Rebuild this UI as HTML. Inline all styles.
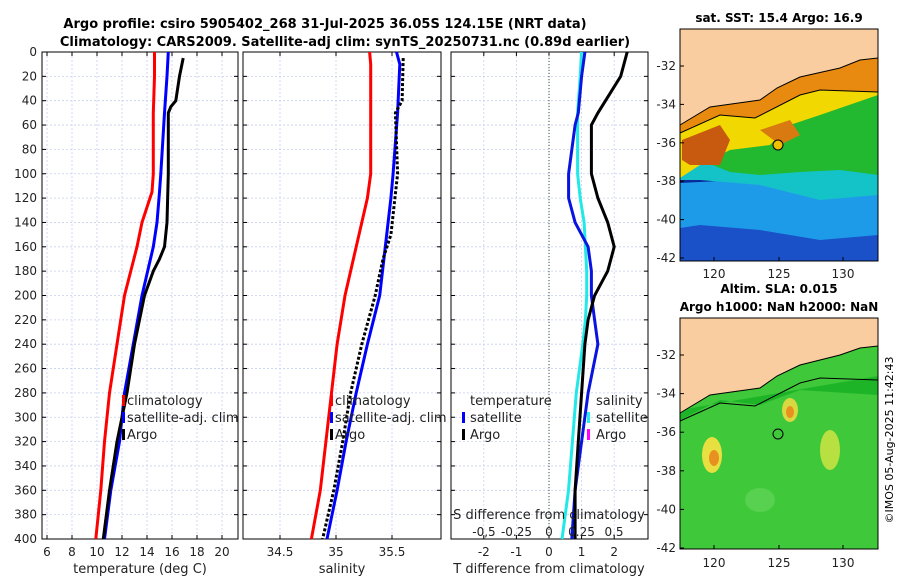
<!DOCTYPE html>
<html><head><meta charset="utf-8"><style>
body{margin:0;background:#fff;width:900px;height:580px;overflow:hidden;font-family:"Liberation Sans","DejaVu Sans",sans-serif}
svg text{font-family:"DejaVu Sans","Liberation Sans",sans-serif}
</style></head><body>
<svg id="c" width="900" height="580">
<text x="325" y="28" font-size="13" font-weight="bold" text-anchor="middle">Argo profile: csiro 5905402_268 31-Jul-2025 36.05S 124.15E (NRT data)</text>
<text x="345" y="46" font-size="13" font-weight="bold" text-anchor="middle">Climatology: CARS2009. Satellite-adj clim: synTS_20250731.nc (0.89d earlier)</text>
<g id="p1"></g>
<g id="p2"></g>
<g id="p3"></g>
<g id="m1">
<text x="779" y="22" font-size="12" font-weight="bold" text-anchor="middle">sat. SST: 15.4 Argo: 16.9</text>
<rect x="680" y="29" width="198" height="232" fill="#0a2a9a"/>
<polygon points="680,205 878,205 878,261 680,261" fill="#1a50c8"/>
<polygon points="680,183 740,180 800,190 878,185 878,235 820,240 760,230 700,225 680,228" fill="#1e9be8"/>
<polygon points="680,162 878,160 878,195 820,200 760,185 700,180 680,180" fill="#14c3c8"/>
<polygon points="680,125 878,92 878,175 840,170 800,172 760,175 730,172 700,160 680,160" fill="#22b830"/>
<polygon points="680,125 878,58 878,95 820,115 790,125 770,145 730,150 700,165 680,178" fill="#f0d800"/>
<polygon points="680,125 710,107 760,100 777,88 800,77 840,68 860,60 878,58 878,92 820,90 800,95 790,100 755,118 720,115 680,133" fill="#e88a10"/>
<polygon points="682,140 720,125 730,140 720,165 690,165 682,160" fill="#c85a10"/>
<polygon points="760,130 790,120 800,135 780,145" fill="#d87a10"/>
<polygon points="680,29 878,29 878,58 860,60 840,68 800,77 777,88 760,100 710,107 680,125" fill="#f9cda0"/>
<polyline points="680,125 710,107 760,100 777,88 800,77 840,68 860,60 878,58" fill="none" stroke="#000" stroke-width="1"/>
<polyline points="680,133 720,115 755,118 800,95 820,90 878,92" fill="none" stroke="#000" stroke-width="1"/>
<circle cx="778" cy="145" r="5" fill="#f0c000" stroke="#000"/>
<rect x="680" y="29" width="198" height="232" fill="none" stroke="#000"/>
</g>
<g id="m2">
<text x="779" y="293" font-size="12" font-weight="bold" text-anchor="middle">Altim. SLA: 0.015</text>
<text x="779" y="311" font-size="12" font-weight="bold" text-anchor="middle">Argo h1000: NaN h2000: NaN</text>
<rect x="680" y="318" width="198" height="231" fill="#3ec83a"/>
<polygon points="680,410 878,376 878,395 800,390 760,405 720,400 680,420" fill="#1eb428"/>
<ellipse cx="712" cy="455" rx="10" ry="18" fill="#e8e040"/><ellipse cx="714" cy="458" rx="5" ry="8" fill="#e89020"/>
<ellipse cx="790" cy="410" rx="8" ry="12" fill="#d8d840"/><ellipse cx="790" cy="412" rx="4" ry="6" fill="#e89020"/>
<ellipse cx="830" cy="450" rx="10" ry="20" fill="#b8e040"/>
<ellipse cx="760" cy="500" rx="15" ry="12" fill="#58d050"/>
<polygon points="680,318 878,318 878,346 860,348 840,355 800,365 777,376 760,388 710,395 680,413" fill="#f9cda0"/>
<polyline points="680,413 710,395 760,388 777,376 800,365 840,355 860,348 878,346" fill="none" stroke="#000"/>
<polyline points="680,421 720,403 755,406 800,383 820,378 878,380" fill="none" stroke="#000"/>
<circle cx="778" cy="434" r="5" fill="none" stroke="#000"/>
<rect x="680" y="318" width="198" height="231" fill="none" stroke="#000"/>
</g>
<text transform="translate(893,440) rotate(-90)" font-size="11" text-anchor="middle">©IMOS 05-Aug-2025 11:42:43</text>
</svg>
<script>
// Temperature (deg C)
const tDepth=[0,20,50,100,115,140,160,200,240,280,320,360,400];
const tClim=[14.6,14.6,14.5,14.5,14.4,13.6,13.2,12.2,11.6,11.0,10.6,10.3,9.9];
const tSat=[15.7,15.6,15.4,15.1,15.0,14.8,14.5,13.6,12.9,12.2,11.8,11.1,10.6];
const argoDepth=[5,20,40,45,50,100,140,160,170,180,200,240,280,320,360,400];
const tArgo=[16.9,16.6,16.3,15.9,15.7,15.7,15.6,15.4,15.0,14.5,13.8,13.0,12.4,11.6,11.0,10.5];
// Salinity
const sDepth=[0,10,50,100,120,160,200,240,280,320,360,400];
const sClim=[35.30,35.31,35.31,35.31,35.28,35.18,35.08,35.01,34.96,34.91,34.86,34.78];
const sSat=[35.54,35.57,35.55,35.51,35.49,35.44,35.39,35.28,35.18,35.09,35.01,34.92];
const sArgoDepth=[5,40,50,100,150,170,200,240,280,320,360,400];
const sArgo=[35.60,35.59,35.53,35.55,35.49,35.42,35.35,35.23,35.13,35.06,34.98,34.88];
// Differences
const dDepth=[0,20,50,60,100,120,140,160,180,200,220,240,280,320,360,400];
const dTsat=[1.1,1.0,0.9,0.8,0.6,0.6,0.8,1.2,1.3,1.3,1.4,1.5,1.2,1.0,0.8,0.7];
const dTargo=[2.4,2.2,1.5,1.3,1.3,1.5,1.8,2.0,1.8,1.4,1.2,1.1,1.0,0.9,0.8,0.8];
const dSsat=[0.25,0.24,0.22,0.22,0.22,0.24,0.27,0.28,0.29,0.29,0.28,0.26,0.21,0.18,0.15,0.10];
const tTicks=[6,8,10,12,14,16,18,20];
const sTicks=[34.5,35,35.5];
const dTicks=[-2,-1,0,1,2];
const dsTicks=[-0.5,-0.25,0,0.25,0.5];
const dsLabels=["-0,5","-0.25","0","0.25","0.5"];
const yTicks=[0,20,40,60,80,100,120,140,160,180,200,220,240,260,280,300,320,340,360,380,400];
const NS="http://www.w3.org/2000/svg";
const Y0=52,Y1=539;
const yS=d=>Y0+d/400*(Y1-Y0);
function el(p,t,a){const e=document.createElementNS(NS,t);for(const k in a)e.setAttribute(k,a[k]);p.appendChild(e);return e;}
function panel(g,x0,x1,xS,ticks,labels,name,showY){
  for(const d of yTicks){const y=yS(d);
    const l=el(g,'line',{x1:x0,x2:x1,y1:y,y2:y,stroke:'#c8d0ee','stroke-dasharray':'2,2','stroke-width':0.8});
    
    el(g,'line',{x1:x0,x2:x0+4,y1:y,y2:y,stroke:'#000'});el(g,'line',{x1:x1-4,x2:x1,y1:y,y2:y,stroke:'#000'});
    if(showY){const t=el(g,'text',{x:x0-5,y:y+4,'font-size':12,'text-anchor':'end',fill:'#222'});t.textContent=d;
      }
  }
  ticks.forEach((v,i)=>{const x=xS(v);
    const l=el(g,'line',{x1:x,x2:x,y1:Y0,y2:Y1,stroke:'#c8d0ee','stroke-dasharray':'2,2','stroke-width':0.8});
    
    el(g,'line',{x1:x,x2:x,y1:Y0,y2:Y0+4,stroke:'#000'});el(g,'line',{x1:x,x2:x,y1:Y1-4,y2:Y1,stroke:'#000'});
    const t=el(g,'text',{x:x,y:556,'font-size':12,'text-anchor':'middle',fill:'#222'});t.textContent=labels[i];
    
  });
  const r=el(g,'rect',{x:x0,y:Y0,width:x1-x0,height:Y1-Y0,fill:'none',stroke:'#000'});
  
}
function line(g,xs,ds,xS,col,name,dash){
  const pts=xs.map((v,i)=>xS(v).toFixed(1)+','+yS(ds[i]).toFixed(1)).join(' ');
  const a={points:pts,fill:'none',stroke:col,'stroke-width':3};if(dash)a['stroke-dasharray']=dash;
  const p=el(g,'polyline',a);
}
function txt(g,x,y,s,name,anchor,size){const t=el(g,'text',{x:x,y:y,'font-size':size||13,'text-anchor':anchor||'start',fill:'#222'});t.textContent=s;
  }
function swatch(g,x,y,col,name){const r=el(g,'rect',{x:x,y:y,width:3,height:11,fill:col});}
// panel 1
const g1=document.getElementById('p1');const xT=v=>47+(v-6)*12.5;
panel(g1,42,238,xT,tTicks,tTicks,'temperature-panel',true);
line(g1,tClim,tDepth,xT,'#f00','temperature-climatology-line');
line(g1,tSat,tDepth,xT,'#00f','temperature-satellite-line');
line(g1,tArgo,argoDepth,xT,'#000','temperature-argo-line');
txt(g1,140,573,'temperature (deg C)','temperature-axis-title','middle');
swatch(g1,122,395,'#f00','legend-climatology-swatch');txt(g1,127,405,'climatology','legend-climatology');
swatch(g1,122,412,'#00f','legend-satellite-swatch');txt(g1,127,422,'satellite-adj. clim','legend-satellite');
swatch(g1,122,429,'#000','legend-argo-swatch');txt(g1,127,439,'Argo','legend-argo');
// panel 2
const g2=document.getElementById('p2');const xSal=v=>336+(v-35)*112;
panel(g2,243,441,xSal,sTicks,sTicks,'salinity-panel',false);
line(g2,sClim,sDepth,xSal,'#f00','salinity-climatology-line');
line(g2,sSat,sDepth,xSal,'#00f','salinity-satellite-line');
line(g2,sArgo,sArgoDepth,xSal,'#000','salinity-argo-line','3,2');
txt(g2,342,573,'salinity','salinity-axis-title','middle');
swatch(g2,330,395,'#f00','legend-s-climatology-swatch');txt(g2,335,405,'climatology','legend-s-climatology');
swatch(g2,330,412,'#00f','legend-s-satellite-swatch');txt(g2,335,422,'satellite-adj. clim','legend-s-satellite');
swatch(g2,330,429,'#000','legend-s-argo-swatch');txt(g2,335,439,'Argo','legend-s-argo');
// panel 3
const g3=document.getElementById('p3');const xD=v=>549+v*32.6;const xDS=v=>549+v*130;
panel(g3,451,648,xD,dTicks,dTicks,'difference-panel',false);
const z=el(g3,'line',{x1:549,x2:549,y1:Y0,y2:Y1,stroke:'#353','stroke-dasharray':'1,2'});

line(g3,dSsat,dDepth,xDS,'#22e8e8','salinity-satellite-diff-line');
line(g3,dTsat,dDepth,xD,'#0a14e0','temperature-satellite-diff-line');
line(g3,dTargo,dDepth,xD,'#000','temperature-argo-diff-line');
txt(g3,470,405,'temperature','legend-temperature-heading');
swatch(g3,462,412,'#00f','legend-t-satellite-swatch');txt(g3,470,422,'satellite','legend-t-satellite');
swatch(g3,462,429,'#000','legend-t-argo-swatch');txt(g3,470,439,'Argo','legend-t-argo');
txt(g3,596,405,'salinity','legend-salinity-heading');
swatch(g3,587,412,'#2ee','legend-s-sat-swatch');txt(g3,596,422,'satellite','legend-s-sat');
swatch(g3,587,429,'#f0f','legend-s-argo-swatch2');txt(g3,596,439,'Argo','legend-s-argo2');
txt(g3,549,519,'S difference from climatology','s-diff-axis-title','middle');
dsTicks.forEach((v,i)=>txt(g3,xDS(v),536,dsLabels[i],'s-diff-tick-label','middle',12));
txt(g3,549,573,'T difference from climatology','t-diff-axis-title','middle');
// map axes
function mapAxes(y0,y1,top){
  const g=document.getElementById(top?'m1':'m2');
  const latY=l=>y0+(l+32)*-(y1-y0)/10;
  for(let l=-32;l>=-42;l-=2){const y=latY(l);el(g,'line',{x1:680,x2:684,y1:y,y2:y,stroke:'#000'});
    txt(g,676,y+4,l,'lat-tick-label','end',12);}
  [[120,714],[125,779],[130,843]].forEach(([v,x])=>{el(g,'line',{x1:x,x2:x,y1:(top?261:549)-4,y2:top?261:549,stroke:'#000'});
    txt(g,x,(top?278:567),v,'lon-tick-label','middle',12);});
}
mapAxes(66,258,true);mapAxes(355,548,false);
</script>
</body></html>
